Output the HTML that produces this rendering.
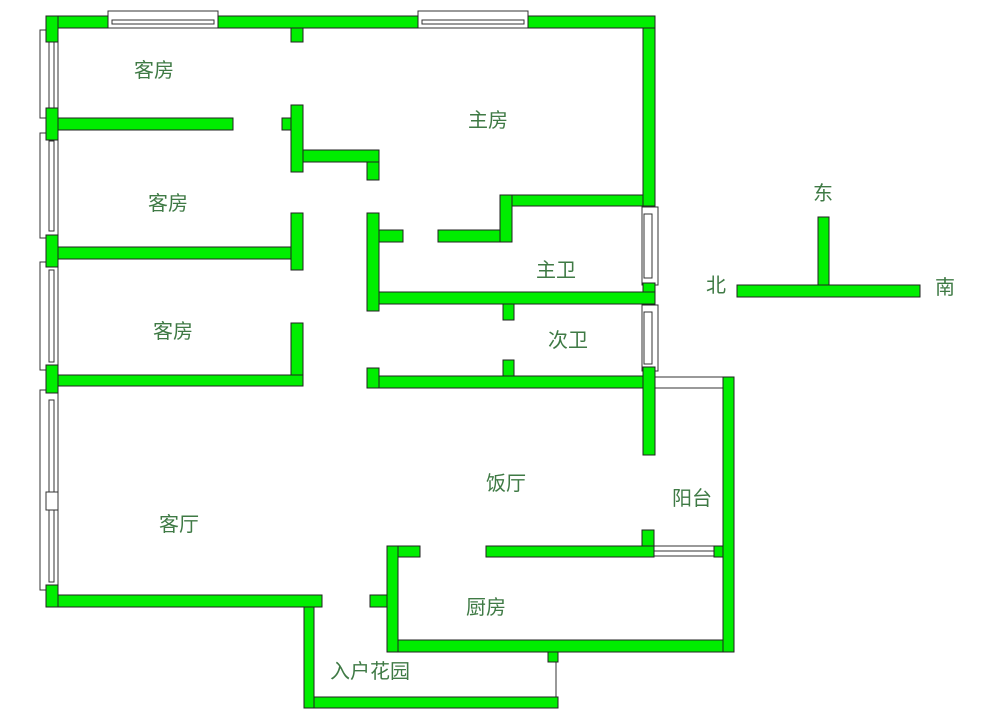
<!DOCTYPE html>
<html><head><meta charset="utf-8"><style>
html,body{margin:0;padding:0;background:#fff;width:1000px;height:719px;overflow:hidden}
svg text{font-family:"Liberation Sans","Noto Sans CJK SC",sans-serif;font-size:20px;fill:#3f7a45}
</style></head><body>
<svg width="1000" height="719" viewBox="0 0 1000 719">
<g fill="#fff" stroke="#333" stroke-width="1">
<rect x="108" y="11" width="110" height="17"/><rect x="112" y="20" width="102" height="4"/>
<rect x="418" y="11" width="110" height="17"/><rect x="422" y="20" width="102" height="4"/>
<rect x="40" y="30" width="18" height="88"/><rect x="49" y="38" width="5" height="72"/>
<rect x="40" y="133" width="18" height="105"/><rect x="49" y="141" width="5" height="90"/>
<rect x="40" y="262" width="18" height="108"/><rect x="49" y="270" width="5" height="92"/>
<rect x="40" y="390" width="18" height="200"/><rect x="49" y="400" width="5" height="182"/>
<rect x="46" y="492" width="12" height="18"/>
<rect x="642" y="207" width="16" height="78"/><rect x="644" y="214" width="8" height="64"/>
<rect x="642" y="305" width="16" height="66"/><rect x="644" y="312" width="8" height="52"/>
<rect x="655" y="377" width="68" height="11"/>
<rect x="654" y="546" width="60" height="10"/><line x1="654" y1="551" x2="714" y2="551"/>
<line x1="556" y1="660" x2="556" y2="700"/>
</g>
<g fill="#00ee00" stroke="#222" stroke-width="1">
<rect x="46" y="16" width="62" height="12"/><rect x="218" y="16" width="200" height="12"/><rect x="528" y="16" width="127" height="12"/>
<rect x="46" y="16" width="12" height="26"/>
<rect x="291" y="28" width="12" height="14"/>
<rect x="46" y="108" width="12" height="32"/><rect x="58" y="118" width="175" height="12"/>
<rect x="291" y="105" width="12" height="67"/><rect x="282" y="118" width="9" height="12"/>
<rect x="303" y="150" width="76" height="12"/><rect x="367" y="162" width="12" height="18"/>
<rect x="46" y="235" width="12" height="32"/><rect x="58" y="247" width="245" height="12"/>
<rect x="291" y="213" width="12" height="57"/>
<rect x="367" y="213" width="12" height="98"/><rect x="379" y="230" width="24" height="12"/>
<rect x="438" y="230" width="70" height="12"/><rect x="500" y="195" width="12" height="47"/>
<rect x="512" y="195" width="143" height="11"/><rect x="643" y="28" width="12" height="178"/>
<rect x="643" y="283" width="12" height="22"/>
<rect x="379" y="292" width="276" height="12"/><rect x="503" y="304" width="11" height="16"/>
<rect x="367" y="368" width="12" height="20"/><rect x="379" y="376" width="276" height="12"/>
<rect x="503" y="360" width="11" height="16"/><rect x="643" y="367" width="12" height="88"/>
<rect x="46" y="365" width="12" height="28"/><rect x="58" y="375" width="245" height="11"/>
<rect x="291" y="323" width="12" height="52"/>
<rect x="723" y="377" width="11" height="275"/>
<rect x="46" y="585" width="12" height="22"/><rect x="58" y="595" width="264" height="12"/>
<rect x="304" y="607" width="10" height="101"/><rect x="314" y="697" width="244" height="11"/>
<rect x="548" y="652" width="10" height="10"/>
<rect x="387" y="546" width="11" height="106"/><rect x="398" y="546" width="22" height="11"/>
<rect x="370" y="595" width="17" height="12"/>
<rect x="486" y="546" width="168" height="11"/><rect x="642" y="530" width="12" height="16"/>
<rect x="714" y="546" width="9" height="11"/>
<rect x="398" y="640" width="325" height="12"/>
<rect x="818" y="217" width="11" height="68"/><rect x="737" y="285" width="183" height="12"/>
</g>
<text x="134" y="77">客房</text>
<text x="468" y="127">主房</text>
<text x="148" y="210">客房</text>
<text x="153" y="338">客房</text>
<text x="536" y="277">主卫</text>
<text x="548" y="347">次卫</text>
<text x="486" y="490">饭厅</text>
<text x="672" y="505">阳台</text>
<text x="159" y="531">客厅</text>
<text x="466" y="614">厨房</text>
<text x="330" y="678">入户花园</text>
<text x="813" y="200">东</text>
<text x="706" y="292">北</text>
<text x="935" y="294">南</text>
</svg>
</body></html>
